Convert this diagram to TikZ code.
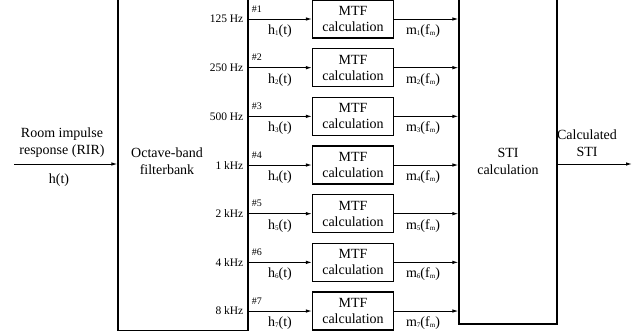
\documentclass[tikz,border=0pt]{standalone}
\usepackage{fontspec}
\setmainfont{Liberation Serif}
\usetikzlibrary{positioning,arrows.meta,calc}
\newcommand{\lowsub}[1]{\raisebox{-1.2pt}{\fontsize{7}{7}\selectfont #1}}

\begin{document}
\begin{tikzpicture}[x=1pt,y=-1pt,
  blk/.style={rectangle,draw,line width=1.1pt,inner sep=0pt},
  mtfbox/.style={blk,minimum width=81pt,minimum height=38pt,align=center,
    font=\fontsize{14}{16}\selectfont},
  sarr/.style={-{Latex[length=6pt,width=3.5pt]},line width=1pt},
  flab/.style={font=\fontsize{11.5}{13}\selectfont,anchor=east,inner sep=0pt},
  nlab/.style={font=\fontsize{10}{12}\selectfont,anchor=west,inner sep=0pt},
  slab/.style={font=\fontsize{14}{17}\selectfont,inner sep=0pt,align=center}
]
\useasboundingbox (0,0) rectangle (642,335);
\clip (0,0) rectangle (642,335);

\node[blk,minimum width=130pt,minimum height=345pt] (fb) at (183,158) {};
\node[blk,minimum width=98pt,minimum height=340pt] (sti) at (508,154) {};
\node[slab] (fbtxt) at (167,161) {Octave-band\\filterbank};
\node[slab] (stitxt) at (508,161) {STI\\calculation};

% input and output
\coordinate (in) at (14,164);
\coordinate (out) at (632,164);
\draw[sarr] (in) -- (in -| fb.west);
\draw[sarr] (sti.east |- out) -- (out);
\node[slab] (inlab) at (62,143) {Room impulse\\response (RIR)};
\node[slab] (inh) at (59,180) {h(t)};
\node[slab] (outlab) at (587,143) {Calculated\\STI};

% one branch per octave band
\foreach \f [count=\i] in {125 Hz,250 Hz,500 Hz,1 kHz,2 kHz,4 kHz,8 kHz} {
  \pgfmathsetmacro\yy{19+48.67*(\i-1)}
  \node[mtfbox] (mtf\i) at (353,\yy) {MTF\\calculation};
  \draw[sarr] (fb.east |- mtf\i.west) -- (mtf\i.west);
  \draw[sarr] (mtf\i.east) -- (sti.west |- mtf\i.east);
  \node[flab] (f\i) at ($(fb.east |- mtf\i.west)+(-5,0)$) {\f};
  \node[nlab] (n\i) at ($(fb.east |- mtf\i.west)+(3,-10)$) {\#\i};
  \node[slab] (h\i) at (280,\yy+12) {h\lowsub{\i}(t)};
  \node[slab] (m\i) at (423,\yy+12) {m\lowsub{\i}(f\lowsub{m})};
}
\end{tikzpicture}
\end{document}
